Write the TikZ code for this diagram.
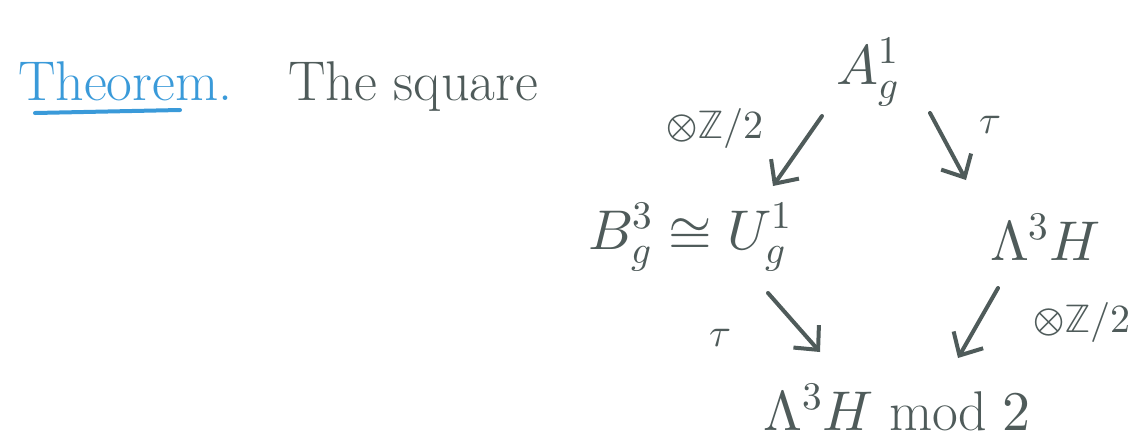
\documentclass[tikz,border=0pt]{standalone}
\usepackage{amsmath}
\usepackage{unicode-math}
\setmathfont{Latin Modern Math}
\usetikzlibrary{arrows.meta}
\definecolor{ink}{HTML}{4F5B5A}
\definecolor{blueink}{HTML}{3A9AD9}
\begin{document}
\begin{tikzpicture}[x=1pt,y=-1pt,
  txt/.style={inner sep=0pt,text=ink,font=\fontsize{56}{60}\selectfont},
  lbl/.style={inner sep=0pt,text=ink,font=\fontsize{40}{44}\selectfont},
  arr/.style={draw=ink,line width=4pt,line cap=round,line join=round,
    -{Straight Barb[length=18pt,width=34pt,line width=4pt]}}]
\useasboundingbox (0,0) rectangle (1145,440);
% heading
\node[txt,text=blueink,anchor=base west] (thm) at (18,100) {Theorem.};
\draw[blueink,line width=4pt,line cap=round] (35,113) coordinate (u1) -- (180,110) coordinate (u2);
\node[txt,anchor=base west] (sq) at (288,100) {The square};
% vertices
\node[txt] (a) at (868,72) {$A_g^1$};
\node[txt] (b) at (690,237) {$B_g^3\cong U_g^1$};
\node[txt] (c) at (1045,237) {$\Lambda^3H$};
\node[txt] (d) at (897,407) {$\Lambda^3H\;\mathrm{mod}\;2$};
% arrow endpoints
\coordinate (ab1) at (822,116); \coordinate (ab2) at (773,186);
\coordinate (ac1) at (930,113); \coordinate (ac2) at (966,180);
\coordinate (bd1) at (768,293); \coordinate (bd2) at (820,352);
\coordinate (cd1) at (998,288); \coordinate (cd2) at (958,358);
\draw[arr] (ab1) -- (ab2);
\draw[arr] (ac1) -- (ac2);
\draw[arr] (bd1) -- (bd2);
\draw[arr] (cd1) -- (cd2);
% labels
\node[lbl] (lab) at (715,128) {$\otimes\mathbb{Z}/2$};
\node[lbl] (lac) at (990,125) {$\tau$};
\node[lbl] (lbd) at (720,338) {$\tau$};
\node[lbl] (lcd) at (1082,322) {$\otimes\mathbb{Z}/2$};
\end{tikzpicture}
\end{document}
